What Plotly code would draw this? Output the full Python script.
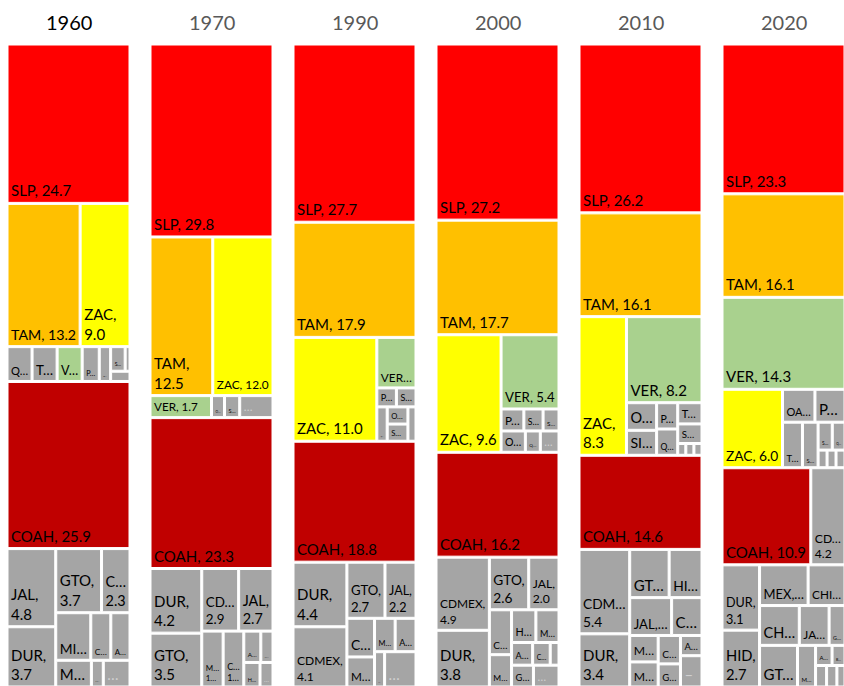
import plotly.graph_objects as go

YEARS = ["1960", "1970", "1990", "2000", "2010", "2020"]

# ---- 1960 ----
nodes_1960 = ["1960", "SLP", "a", "TAM", "ZAC", "b", "QRO", "TLAX", "VER", "PUE", "OAX", "c", "d", "SON", "x1", "x2",
              "COAH", "f", "g", "JAL", "DUR", "h", "i", "GTO", "CHIH", "j", "MICH", "COL", "AGS", "k", "MEX", "HGO", "x3"]
parents_1960 = ["", "1960", "1960", "a", "a", "1960", "b", "b", "b", "b", "b", "b", "c", "d", "d", "c",
                "1960", "1960", "f", "g", "g", "f", "h", "i", "i", "h", "j", "j", "j", "h", "k", "k", "k"]
values_1960 = [0, 24.7, 0, 13.2, 9.0, 0, 1.1, 1.1, 1.1, 0.75, 0.5, 0, 0, 0.45, 0.15, 0.25,
               25.9, 0, 0, 4.8, 3.7, 0, 0, 3.7, 2.3, 0, 2.1, 1.2, 1.15, 0, 1.2, 0.4, 0.9]
text_1960 = ["", "SLP, 24.7", "", "TAM, 13.2", "ZAC,<br>9.0", "", "Q…", "T…", "V…", "P…", "O…", "", "", "S…", "", "",
             "COAH, 25.9", "", "", "JAL,<br>4.8", "DUR,<br>3.7", "", "", "GTO,<br>3.7", "C…<br>2.3", "", "MI…", "C…", "A…", "", "M…", "H…", "…"]

# ---- 1970 ----
nodes_1970 = ["1970", "SLP", "a", "TAM", "ZAC", "b", "VER", "OAX", "SON", "x1", "COAH", "c", "d", "DUR", "GTO",
              "e", "f", "CDMX", "JAL", "g", "MEX", "CHIH", "h", "i", "AGS", "MICH", "j", "HGO", "x2"]
parents_1970 = ["", "1970", "1970", "a", "a", "1970", "b", "b", "b", "b", "1970", "1970", "c", "d", "d",
                "c", "e", "f", "f", "e", "g", "g", "g", "h", "i", "i", "h", "j", "j"]
values_1970 = [0, 29.8, 0, 12.5, 12.0, 0, 1.7, 0.36, 0.42, 0.92, 23.3, 0, 0, 4.2, 3.5,
               0, 0, 2.9, 2.7, 0, 1.5, 1.45, 0, 0, 0.67, 0.48, 0, 0.5, 0.4]
text_1970 = ["", "SLP, 29.8", "", "TAM,<br>12.5", "ZAC, 12.0", "", "VER, 1.7", "O…", "S…", "…", "COAH, 23.3", "", "",
             "DUR,<br>4.2", "GTO,<br>3.5", "", "", "CD…<br>2.9", "JAL,<br>2.7", "", "M…<br>1…", "C…<br>1…", "", "",
             "A…", "M…", "", "H…", "…"]

# ---- 1990 ----
nodes_1990 = ["1990", "SLP", "TAM", "a", "ZAC", "b", "VER", "c", "PUE", "SON", "d", "QRO", "e", "OAX", "SIN", "x1",
              "COAH", "f", "g", "DUR", "CDMX", "h", "i", "GTO", "JAL", "j", "k", "CHIH", "MEX", "l", "m", "MICH",
              "AGS", "n", "HGO", "x2"]
parents_1990 = ["", "1990", "1990", "1990", "a", "a", "b", "b", "c", "c", "b", "d", "d", "e", "e", "d",
                "1990", "1990", "f", "g", "g", "f", "h", "i", "i", "h", "j", "k", "k", "j", "l", "m",
                "m", "l", "n", "n"]
values_1990 = [0, 27.7, 17.9, 0, 11.0, 0, 2.5, 0, 0.47, 0.47, 0, 0.45, 0, 0.45, 0.45, 0.35,
               18.8, 0, 0, 4.4, 4.1, 0, 0, 2.7, 2.2, 0, 0, 1.35, 1.05, 0, 0, 0.87,
               0.88, 0, 0.45, 1.4]
text_1990 = ["", "SLP, 27.7", "TAM, 17.9", "", "ZAC, 11.0", "", "VER…", "", "P…", "S…", "", "Q…", "", "O…", "S…", "",
             "COAH, 18.8", "", "", "DUR,<br>4.4", "CDMEX,<br>4.1", "", "", "GTO,<br>2.7", "JAL,<br>2.2", "", "",
             "C…", "M…", "", "", "M…", "A…", "", "H…", "…"]

# ---- 2000 ----
nodes_2000 = ["2000", "SLP", "TAM", "a", "ZAC", "b", "VER", "c", "PUE", "SON", "SIN", "d", "OAX", "QRO", "x1",
              "COAH", "e", "f", "CDMX", "DUR", "g", "h", "GTO", "JAL", "i", "j", "CHIH", "MEX", "k", "l", "HGO",
              "MICH", "m", "AGS", "COL", "x2", "n", "GRO", "x3"]
parents_2000 = ["", "2000", "2000", "2000", "a", "a", "b", "b", "c", "c", "c", "b", "d", "d", "d",
                "2000", "2000", "e", "f", "f", "e", "g", "h", "h", "g", "i", "j", "j", "i", "k", "l",
                "l", "k", "m", "m", "m", "k", "n", "n"]
values_2000 = [0, 27.2, 17.7, 0, 9.6, 0, 5.4, 0, 0.63, 0.53, 0.44, 0, 0.65, 0.4, 0.5,
               16.2, 0, 0, 4.9, 3.8, 0, 0, 2.6, 2.0, 0, 0, 1.25, 0.9, 0, 0, 1.0,
               0.95, 0, 0.6, 0.5, 0.25, 0, 0.6, 0.7]
text_2000 = ["", "SLP, 27.2", "TAM, 17.7", "", "ZAC, 9.6", "", "VER, 5.4", "", "P…", "S…", "S…", "", "O…", "Q…", "…",
             "COAH, 16.2", "", "", "CDMEX,<br>4.9", "DUR,<br>3.8", "", "", "GTO,<br>2.6", "JAL,<br>2.0", "", "",
             "C…", "M…", "", "", "H…", "M…", "", "A…", "C…", "", "", "G…", "…"]

# ---- 2010 ----
nodes_2010 = ["2010", "SLP", "TAM", "a", "ZAC", "b", "VER", "c", "d", "OAX", "SIN", "e", "PUE", "QRO", "f", "TAB",
              "SON", "g", "x1", "x2", "x3", "COAH", "h", "i", "CDMX", "DUR", "j", "k", "GTO", "HGO", "l", "JAL",
              "CHIH", "m", "n", "MEX", "MICH", "o", "COL", "GRO", "p", "AGS", "x4"]
parents_2010 = ["", "2010", "2010", "2010", "a", "a", "b", "b", "c", "d", "d", "c", "e", "e", "c", "f",
                "f", "f", "g", "g", "g", "2010", "2010", "h", "i", "i", "h", "j", "k", "k", "j", "l",
                "l", "j", "m", "n", "n", "m", "o", "o", "m", "p", "p"]
values_2010 = [0, 26.2, 16.1, 0, 8.3, 0, 8.2, 0, 0, 1.05, 0.95, 0, 0.7, 0.7, 0, 0.65,
               0.6, 0, 0.12, 0.12, 0.12, 14.6, 0, 0, 5.4, 3.4, 0, 0, 2.4, 2.0, 0, 2.0,
               1.45, 0, 0, 0.95, 0.9, 0, 0.8, 0.65, 0, 0.55, 0.85]
text_2010 = ["", "SLP, 26.2", "TAM, 16.1", "", "ZAC,<br>8.3", "", "VER, 8.2", "", "", "O…", "SI…", "", "P…", "Q…", "",
             "T…", "S…", "", "", "", "", "COAH, 14.6", "", "", "CDM…<br>5.4", "DUR,<br>3.4", "", "", "GT…", "HI…", "",
             "JAL,…", "C…", "", "", "M…", "M…", "", "C…", "G…", "", "A…", "–"]

# ---- 2020 ----
nodes_2020 = ["2020", "SLP", "TAM", "VER", "a", "ZAC", "b", "c", "OAX", "PUE", "d", "TAB", "SON", "e", "f", "SIN",
              "QRO", "g", "x1", "x2", "x3", "h", "COAH", "CDMX", "i", "j", "DUR", "HGO", "k", "l", "MEX", "CHIH",
              "m", "CHIS", "JAL", "GRO", "n", "GTO", "MICH", "o", "p", "AGS", "BC", "q", "x4", "x5", "x6"]
parents_2020 = ["", "2020", "2020", "2020", "2020", "a", "a", "b", "c", "c", "b", "d", "d", "d", "e", "f",
                "f", "e", "g", "g", "g", "2020", "h", "h", "2020", "i", "j", "j", "i", "k", "l", "l",
                "k", "m", "m", "m", "k", "n", "n", "n", "o", "p", "p", "o", "q", "q", "q"]
values_2020 = [0, 23.3, 16.1, 14.3, 0, 6.0, 0, 0, 1.35, 1.25, 0, 1.15, 0.9, 0, 0, 0.5,
               0.45, 0, 0.2, 0.2, 0.2, 0, 10.9, 4.2, 0, 0, 3.1, 2.7, 0, 0, 2.5, 1.9,
               0, 2.0, 1.5, 0.8, 0, 2.0, 0.95, 0, 0, 0.42, 0.33, 0, 0.3, 0.28, 0.22]
text_2020 = ["", "SLP, 23.3", "TAM, 16.1", "VER, 14.3", "", "ZAC, 6.0", "", "", "OA…", "P…", "", "T…", "S…", "", "",
             "S…", "Q…", "", "", "", "", "", "COAH, 10.9", "CD…<br>4.2", "", "", "DUR,<br>3.1", "HID,<br>2.7", "", "",
             "MEX,…", "CHI…", "", "CH…", "JA…", "G…", "", "GT…", "M…", "", "", "A…", "B…", "", "", "", ""]

DATA = {
    "1960": (nodes_1960, parents_1960, values_1960, text_1960),
    "1970": (nodes_1970, parents_1970, values_1970, text_1970),
    "1990": (nodes_1990, parents_1990, values_1990, text_1990),
    "2000": (nodes_2000, parents_2000, values_2000, text_2000),
    "2010": (nodes_2010, parents_2010, values_2010, text_2010),
    "2020": (nodes_2020, parents_2020, values_2020, text_2020),
}

STATE_COLORS = {"SLP": "#FF0000", "TAM": "#FFC000", "ZAC": "#FFFF00", "VER": "#A9D18E", "COAH": "#C00000"}
GRAY = "#A5A5A5"
FONT = "Lato"

W, H = 844, 686
COL_LEFT, COL_STEP, COL_W = 8, 143, 121
TOP_PX = 45

fig = go.Figure()
for i, year in enumerate(YEARS):
    nodes, parents, values, text = DATA[year]
    assert len(nodes) == len(parents) == len(values) == len(text), year
    pset = set(parents)
    ids = [year + "/" + n for n in nodes]
    pids = ["" if p == "" else year + "/" + p for p in parents]
    colors = ["white" if n in pset else STATE_COLORS.get(n, GRAY) for n in nodes]
    tcolors = ["#D0D0D0" if t in ("…", "–") else "black" for t in text]
    x0 = COL_LEFT + i * COL_STEP
    x1 = min(W, x0 + COL_W)
    fig.add_trace(go.Treemap(
        ids=ids, labels=nodes, parents=pids, values=values, text=text,
        textinfo="text", branchvalues="remainder", sort=False,
        marker=dict(colors=colors, line=dict(width=1, color="white"),
                    pad=dict(t=0, l=0, r=0, b=0), depthfade=False),
        tiling=dict(packing="dice-slice", pad=2),
        pathbar=dict(visible=False),
        textposition="bottom left",
        textfont=dict(family=FONT, size=15, color=tcolors),
        insidetextfont=dict(family=FONT, size=15, color=tcolors),
        root=dict(color="white"),
        hoverinfo="label+value",
        domain=dict(x=[x0 / W, x1 / W], y=[0, (H - TOP_PX) / H]),
    ))
    fig.add_annotation(
        x=(x0 + COL_W / 2) / W, y=(H - 22) / H, xref="paper", yref="paper",
        text=year, showarrow=False, xanchor="center", yanchor="middle",
        font=dict(family=FONT, size=20, color="black" if i == 0 else "#595959"),
    )

fig.update_layout(
    width=W, height=H, margin=dict(l=0, r=0, t=0, b=0),
    paper_bgcolor="white", plot_bgcolor="white", showlegend=False,
)

fig.write_html("out.html")
